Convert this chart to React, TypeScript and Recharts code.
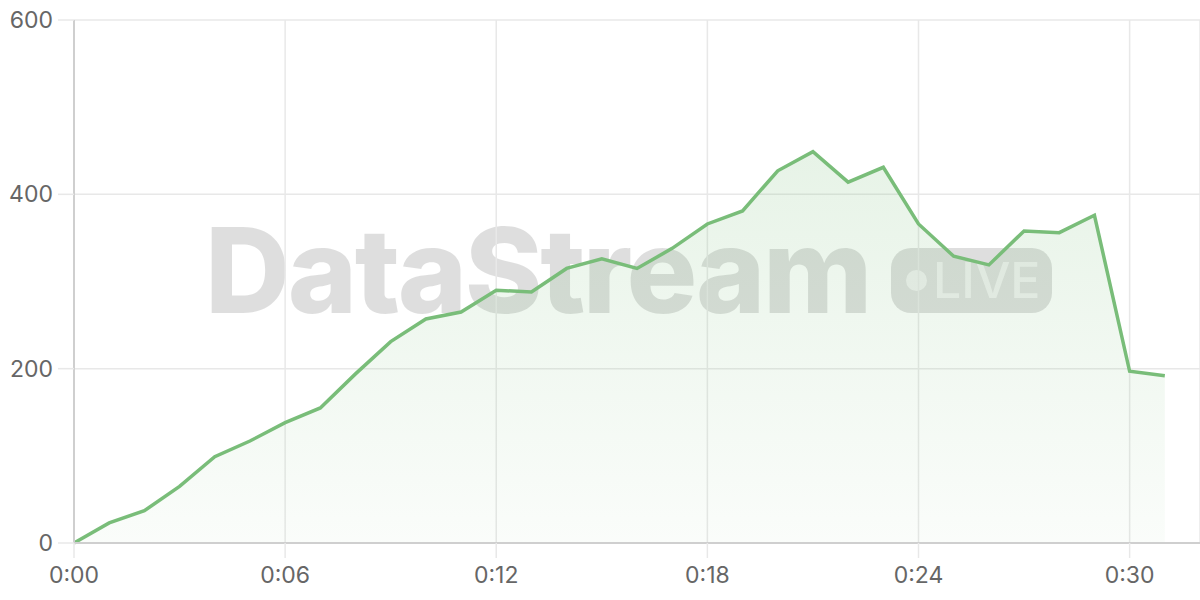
import React from "react";
import { AreaChart, Area, XAxis, YAxis, CartesianGrid } from "recharts";

const minutes = [0,1,2,3,4,5,6,7,8,9,10,11,12,13,14,15,16,17,18,19,20,21,22,23,24,25,26,27,28,29,30,31];
const values = [0,23,37,65,99,117,138,155,194,231,257,265,290,288,315,326,315,338,366,381,427,449,414,431,366,329,319,358,356,376,197,192];
const xTicks = [0,6,12,18,24,30];
const yTicks = [0,200,400,600];

const data = minutes.map((m, i) => ({ m, v: values[i] }));
const fmt = (m: number) => `0:${String(m).padStart(2, "0")}`;

const FONT = "Inter, 'Noto Sans', sans-serif";
const WM = "rgba(0,0,0,0.13)";

export default function App() {
  return (
    <div style={{ position: "absolute", left: 0, top: 0, width: 1200, height: 600, background: "#fff", fontFamily: FONT }}>
      <div style={{ position: "absolute", left: 0, top: 0, width: 1200, height: 600, zIndex: 0 }}>
        <div style={{ position: "absolute", left: 205, top: 205, fontSize: 118, fontWeight: 800, letterSpacing: -2.5, color: WM, lineHeight: "130px", whiteSpace: "nowrap" }}>
          DataStream
        </div>
        <div style={{ position: "absolute", left: 891, top: 248, width: 161, height: 65, borderRadius: 20, background: WM }}>
          <div style={{ position: "absolute", left: 15, top: 22, width: 21, height: 21, borderRadius: 11, background: "rgba(255,255,255,0.55)" }} />
          <div style={{ position: "absolute", left: 42, top: 2, fontSize: 50, fontWeight: 500, color: "rgba(255,255,255,0.55)", lineHeight: "60px" }}>LIVE</div>
        </div>
      </div>
      <div style={{ position: "absolute", left: 0, top: 0, zIndex: 1 }}>
        <AreaChart width={1200} height={600} data={data} margin={{ top: 20, right: 0, left: 0, bottom: 0 }}>
          <defs>
            <linearGradient id="g" x1="0" y1="0" x2="0" y2="1">
              <stop offset="0%" stopColor="#79bd79" stopOpacity={0.3} />
              <stop offset="100%" stopColor="#79bd79" stopOpacity={0.06} />
            </linearGradient>
          </defs>
          <CartesianGrid stroke="#e8e8e8" strokeWidth={1.5} />
          <XAxis
            dataKey="m"
            type="number"
            domain={[0, 32]}
            ticks={xTicks}
            tickFormatter={fmt}
            height={57}
            tickSize={15}
            tickMargin={9}
            axisLine={{ stroke: "#cfcfcf", strokeWidth: 2 }}
            tickLine={{ stroke: "#e8e8e8", strokeWidth: 1.5 }}
            tick={{ fill: "#666", fontSize: 23, fontFamily: FONT }}
          />
          <YAxis
            domain={[0, 600]}
            ticks={yTicks}
            width={74}
            tickSize={16}
            tickMargin={5}
            axisLine={{ stroke: "#cfcfcf", strokeWidth: 2 }}
            tickLine={{ stroke: "#e8e8e8", strokeWidth: 1.5 }}
            tick={{ fill: "#666", fontSize: 23, fontFamily: FONT }}
          />
          <Area
            type="linear"
            dataKey="v"
            stroke="#79bd79"
            strokeWidth={3.5}
            fill="url(#g)"
            isAnimationActive={false}
            dot={false}
            activeDot={false}
          />
        </AreaChart>
      </div>
    </div>
  );
}
